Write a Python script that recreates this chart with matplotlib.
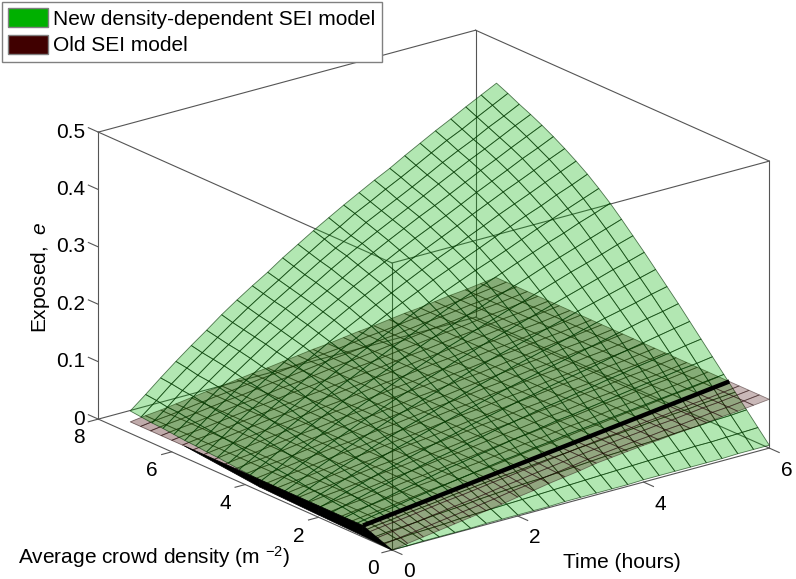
import numpy as np
import matplotlib
matplotlib.use("Agg")
import matplotlib.pyplot as plt
from matplotlib.patches import Patch
from mpl_toolkits.mplot3d import proj3d

plt.rcParams['font.family'] = ['Liberation Sans', 'DejaVu Sans']
plt.rcParams['mathtext.fontset'] = 'custom'
plt.rcParams['mathtext.rm'] = 'Liberation Sans'
plt.rcParams['mathtext.it'] = 'Liberation Sans:italic'
plt.rcParams['mathtext.default'] = 'regular'

# Values
time_hours = [0, .25, .5, .75, 1, 1.25, 1.5, 1.75, 2, 2.25, 2.5, 2.75, 3,
              3.25, 3.5, 3.75, 4, 4.25, 4.5, 4.75, 5, 5.25, 5.5, 5.75, 6]
density_top = [7.13, 7.14, 7.16, 7.17, 7.18, 7.19, 7.21, 7.22, 7.23, 7.24, 7.26, 7.27, 7.28,
               7.29, 7.31, 7.32, 7.33, 7.34, 7.36, 7.37, 7.38, 7.39, 7.41, 7.42, 7.43]
density_share = [0, 1/24, 2/24, 3/24, 4/24, 5/24, 6/24, 7/24, 8/24, 9/24, 10/24, 11/24, 12/24,
                 13/24, 14/24, 15/24, 16/24, 17/24, 18/24, 19/24, 20/24, 21/24, 22/24, 23/24, 1]

# new model, one row per time value, one column per density step
new_exposed = [
    [0, .002, .003, .005, .006, .008, .010, .011, .013, .014, .016, .018, .019, .021, .022, .024, .026, .027, .029, .030, .032, .034, .035, .037, .039],
    [0, .003, .006, .009, .011, .014, .017, .019, .022, .024, .027, .030, .032, .035, .037, .040, .043, .045, .047, .049, .051, .054, .055, .058, .060],
    [.001, .005, .008, .012, .016, .020, .024, .027, .031, .035, .039, .043, .046, .050, .053, .057, .060, .063, .066, .068, .071, .074, .076, .079, .081],
    [.001, .006, .010, .016, .020, .025, .031, .035, .040, .045, .050, .055, .059, .064, .068, .072, .077, .080, .083, .086, .090, .093, .095, .099, .102],
    [.001, .007, .013, .019, .025, .031, .037, .043, .049, .054, .061, .067, .072, .078, .082, .088, .093, .096, .101, .104, .108, .112, .115, .118, .122],
    [.001, .009, .015, .022, .029, .036, .044, .050, .058, .064, .071, .078, .084, .091, .096, .102, .108, .113, .118, .121, .126, .130, .133, .137, .141],
    [.002, .010, .017, .026, .033, .041, .050, .057, .066, .073, .081, .089, .096, .103, .110, .117, .123, .128, .134, .138, .143, .147, .151, .155, .160],
    [.002, .011, .020, .029, .037, .047, .056, .064, .073, .082, .091, .099, .107, .116, .123, .131, .138, .143, .149, .154, .159, .164, .168, .173, .178],
    [.002, .012, .022, .032, .041, .051, .061, .071, .081, .090, .100, .110, .118, .128, .136, .144, .152, .158, .164, .170, .175, .181, .185, .190, .195],
    [.002, .013, .024, .035, .045, .056, .067, .077, .088, .098, .109, .119, .129, .139, .148, .157, .165, .172, .179, .185, .191, .196, .201, .206, .211],
    [.002, .014, .026, .037, .049, .060, .072, .084, .095, .106, .117, .129, .139, .150, .160, .169, .178, .185, .193, .199, .205, .211, .216, .222, .228],
    [.003, .015, .027, .040, .052, .065, .078, .090, .102, .114, .126, .138, .149, .161, .171, .181, .191, .199, .207, .214, .220, .227, .232, .238, .244],
    [.003, .016, .029, .043, .056, .069, .083, .096, .109, .122, .135, .148, .160, .172, .183, .194, .204, .212, .221, .228, .235, .242, .247, .254, .260],
    [.003, .017, .031, .045, .059, .073, .088, .102, .116, .129, .143, .156, .169, .182, .194, .205, .216, .225, .233, .241, .249, .256, .261, .268, .275],
    [.003, .018, .033, .048, .063, .078, .093, .107, .122, .136, .151, .165, .178, .192, .205, .216, .228, .237, .246, .254, .262, .269, .276, .283, .289],
    [.003, .019, .035, .050, .066, .081, .097, .113, .128, .143, .158, .173, .187, .201, .215, .227, .239, .249, .258, .267, .275, .282, .289, .296, .303],
    [.004, .020, .036, .053, .069, .085, .102, .118, .134, .150, .165, .181, .196, .211, .225, .238, .250, .260, .270, .279, .288, .295, .302, .310, .317],
    [.004, .021, .038, .055, .072, .089, .106, .123, .140, .156, .173, .189, .204, .220, .235, .248, .261, .272, .282, .291, .300, .308, .315, .323, .330],
    [.004, .022, .039, .057, .075, .093, .111, .128, .146, .163, .180, .197, .213, .229, .245, .258, .272, .283, .294, .303, .312, .321, .328, .336, .344],
    [.004, .023, .041, .060, .078, .097, .115, .134, .152, .170, .188, .205, .222, .239, .255, .269, .283, .295, .306, .316, .325, .334, .342, .350, .358],
    [.004, .024, .043, .062, .081, .101, .120, .139, .158, .177, .195, .213, .231, .248, .265, .280, .294, .306, .318, .328, .338, .347, .355, .364, .372],
    [.004, .024, .044, .064, .084, .104, .124, .144, .164, .183, .202, .221, .239, .257, .274, .290, .304, .317, .329, .340, .350, .359, .367, .376, .385],
    [.005, .025, .046, .067, .087, .108, .128, .149, .170, .189, .209, .229, .247, .266, .284, .300, .315, .328, .340, .352, .362, .371, .380, .389, .398],
    [.005, .026, .047, .069, .090, .111, .133, .154, .175, .196, .216, .236, .256, .275, .293, .310, .325, .339, .352, .363, .374, .384, .392, .402, .411],
    [.005, .027, .049, .071, .093, .115, .137, .159, .181, .202, .223, .244, .264, .284, .303, .320, .336, .350, .363, .375, .386, .396, .405, .415, .424],
]

# old model does not change with density apart from the first few mesh lines
old_exposed = [.020, .023, .025, .028, .031, .034, .036, .039, .042, .044, .047, .050, .053,
               .055, .058, .061, .063, .066, .069, .071, .074, .077, .079, .082, .085]
old_exposed_low = [0, .004, .008, .012, .016, .020, .024, .028, .033, .037, .042, .046, .050,
                   .055, .058, .061, .064, .066, .069, .071, .074, .077, .079, .082, .085]
old_weight = [0, .25, .5, .75] + [1] * 23
old_density_start = [0, .2, .4, .6, .79, 1.08, 1.37, 1.66, 1.95, 2.24, 2.53, 2.82, 3.11, 3.40,
                     3.69, 3.97, 4.26, 4.55, 4.84, 5.13, 5.42, 5.71, 6.00, 6.29, 6.58, 6.85, 7.13]
old_density_end = [0, .27, .55, .82, 1.09, 1.38, 1.67, 1.96, 2.25, 2.54, 2.83, 3.12, 3.41, 3.70,
                   3.99, 4.27, 4.56, 4.85, 5.14, 5.43, 5.72, 6.01, 6.30, 6.59, 6.88, 7.16, 7.45]
old_above_new = 4  # mesh column where the old surface goes under the new one

# dense mesh lines that print as solid black
wedge_density = [0, .8, 2.0, 3.6, 5.65]
wedge_low = [0, .002, .004, .007, .02]
wedge_high = [0, .02, .02, .02, .02]
band_time = [0, 6]
band_density = [.79, 1.09]
band_exposed = [.02, .085]

time_ticks = [0, 2, 4, 6]
density_ticks = [0, 2, 4, 6, 8]
exposed_ticks = [0, .1, .2, .3, .4, .5]
exposed_labels = ['0', '0.1', '0.2', '0.3', '0.4', '0.5']

new_color = (0, .69, 0)
old_color = (.25, 0, 0)
box_color = '#555555'
size = 15

fig = plt.figure(figsize=(7.96, 5.79), dpi=100)
ax = fig.add_axes([0, 0, 1, 1], projection='3d', computed_zorder=False)
ax.set_proj_type('ortho')
ax.view_init(elev=20.3, azim=-127.9)
ax.set_box_aspect((1, 1, .64))
ax.set_xticks([])
ax.set_yticks([])
ax.set_zticks([])
ax.set_xlim(0, 6)
ax.set_ylim(0, 8)
ax.set_zlim(0, .5)
ax.set_axis_off()
ax.patch.set_alpha(0)


def corner_px(x, y, z):
    px, py, _ = proj3d.proj_transform(x, y, z, ax.get_proj())
    return ax.transData.transform((px, py))


def tick_label(x, y, z, text, ha='center'):
    px, py = corner_px(x, y, z)
    fig.text(px / 796, py / 579, text, fontsize=size, ha=ha, va='center')


# fit the box to the reference corners: origin at (392, 550), width 671 px
ax.apply_aspect()
width = corner_px(6, 0, 0)[0] - corner_px(0, 8, 0)[0]
side = 579 * 671 / width
ax.set_position([0, 0, side / 796, side / 579])
ax.apply_aspect()
origin = corner_px(0, 0, 0)
ax.set_position([(392 - origin[0]) / 796, (29 - origin[1]) / 579, side / 796, side / 579])
ax.apply_aspect()

# box
edges = [
    ([0, 6], [0, 0], [0, 0]), ([0, 0], [0, 8], [0, 0]), ([6, 6], [0, 8], [0, 0]), ([0, 6], [8, 8], [0, 0]),
    ([0, 6], [0, 0], [.5, .5]), ([0, 0], [0, 8], [.5, .5]), ([6, 6], [0, 8], [.5, .5]), ([0, 6], [8, 8], [.5, .5]),
    ([0, 0], [0, 0], [0, .5]), ([6, 6], [0, 0], [0, .5]), ([0, 0], [8, 8], [0, .5]), ([6, 6], [8, 8], [0, .5]),
]
for ex, ey, ez in edges:
    ax.plot(ex, ey, ez, color=box_color, lw=.8, zorder=0)

# ticks and their labels
for t in time_ticks:
    ax.plot([t, t], [0, -.27], [0, 0], color=box_color, lw=.8, zorder=0)
    tick_label(t, -.465, -.025, str(t))
for d in density_ticks:
    ax.plot([0, -.16], [d, d], [0, 0], color=box_color, lw=.8, zorder=0)
    tick_label(-.31, d, -.0235, str(d))
for z, lab in zip(exposed_ticks, exposed_labels):
    ax.plot([0, 0], [8, 8.27], [z, z], color=box_color, lw=.8, zorder=0)
    tick_label(0, 8.355, z - .01, lab, ha='right')

# old model surface, first the part that lies under the new model
share = np.array(time_hours)[:, None] / 6
old_t = np.tile(np.array(time_hours)[:, None], (1, len(old_weight)))
old_d = np.array(old_density_start) * (1 - share) + np.array(old_density_end) * share
low = np.array(old_exposed_low)[:, None]
high = np.array(old_exposed)[:, None]
old_z = low + (high - low) * np.array(old_weight)
k = old_above_new
ax.plot_surface(old_t[:, k:], old_d[:, k:], old_z[:, k:], rstride=1, cstride=1, shade=False,
                color=old_color + (.33,), edgecolor=(.1, 0, 0, .55), linewidth=.6, zorder=1)

# new model surface
new_t = np.tile(np.array(time_hours)[:, None], (1, len(density_share)))
new_d = np.outer(density_top, density_share)
ax.plot_surface(new_t, new_d, np.array(new_exposed), rstride=1, cstride=1, shade=False,
                color=new_color + (.3,), edgecolor=(0, .2, 0, .65), linewidth=.6, zorder=2)

# part of the old surface above the new one
ax.plot_surface(old_t[:, :k + 1], old_d[:, :k + 1], old_z[:, :k + 1], rstride=1, cstride=1, shade=False,
                color=old_color + (.28,), edgecolor=(.1, 0, 0, .45), linewidth=.6, zorder=3)

# solid black parts
wedge_y = np.array([wedge_density, wedge_density])
ax.plot_surface(np.zeros_like(wedge_y), wedge_y, np.array([wedge_low, wedge_high]), rstride=1, cstride=1,
                shade=False, color='black', edgecolor='black', linewidth=.5, zorder=4)
ax.plot(band_time, band_density, band_exposed, color='black', lw=3.2, zorder=5, solid_capstyle='butt')

# axis labels
fig.text(40 / 796, 1 - 277 / 579, r'Exposed,  $\mathit{e}$', rotation=90, fontsize=size, ha='center', va='center')
fig.text(18 / 796, 1 - 557 / 579, r'Average crowd density (m $^{-2}$)', fontsize=size, ha='left', va='center')
fig.text(622 / 796, 1 - 563 / 579, 'Time (hours)', fontsize=size, ha='center', va='center')

# legend
handles = [Patch(facecolor=new_color, edgecolor='#808080', label='New density-dependent SEI model'),
           Patch(facecolor=old_color, edgecolor='#808080', label='Old SEI model')]
fig.legend(handles=handles, loc='upper left', bbox_to_anchor=(2 / 796, 1 - 2 / 579), borderaxespad=0,
           fontsize=size, fancybox=False, framealpha=1, edgecolor='#808080', handlelength=1.9,
           handleheight=1.0, handletextpad=.25, labelspacing=.3, borderpad=.3)

fig.savefig('out.png', dpi=100)
